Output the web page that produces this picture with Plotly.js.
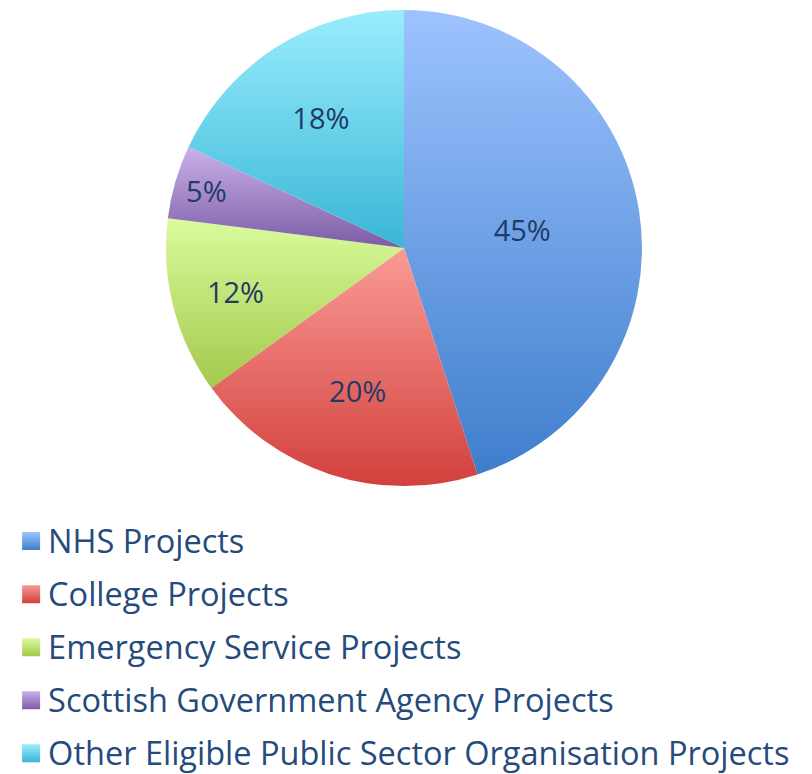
<!DOCTYPE html>
<html>
<head>
<meta charset="utf-8">
<script src="https://cdn.plot.ly/plotly-3.0.1.min.js"></script>
<style>html,body{margin:0;padding:0;background:#fff;}#chart{width:812px;height:774px;}</style>
</head>
<body>
<div id="chart"></div>
<script>
const categories = [
  "NHS Projects",
  "College Projects",
  "Emergency Service Projects",
  "Scottish Government Agency Projects",
  "Other Eligible Public Sector Organisation Projects"
];
const shares = [45, 20, 12, 5, 18];
const sliceColors = ["#6E9FE6", "#E86E6A", "#C4E675", "#A387C8", "#6CD1EA"];
const gradTop = ["#9DC3FF", "#FA9B96", "#DAFB9C", "#C9B1E9", "#99EDFD"];
const gradBottom = ["#3F7ECC", "#D2403C", "#A3C94C", "#7C5CA6", "#3AB6D6"];

const legendLabels = categories.map(c => '<span style="font-size:32.5px">' + c + '</span>');

const data = [{
  type: 'pie',
  labels: legendLabels,
  values: shares,
  sort: false,
  direction: 'clockwise',
  rotation: 0,
  marker: {colors: sliceColors, line: {width: 0}},
  textinfo: 'percent',
  texttemplate: '%{percent:.0%}',
  textposition: 'inside',
  insidetextorientation: 'horizontal',
  textfont: {family: 'Open Sans', size: 29, color: '#1F3B66'},
  hoverinfo: 'skip',
  domain: {x: [0.2044, 0.7906], y: [0.372, 0.987]}
}];

const layout = {
  width: 812, height: 774,
  margin: {l: 0, r: 0, t: 0, b: 0, autoexpand: false},
  paper_bgcolor: '#fff',
  showlegend: true,
  legend: {
    x: 0.01, xanchor: 'left', y: 0.3455, yanchor: 'top',
    orientation: 'v',
    font: {family: 'Open Sans', size: 38.5, color: '#254A7C'},
    bgcolor: 'rgba(0,0,0,0)'
  }
};

Plotly.newPlot('chart', data, layout, {displayModeBar: false, staticPlot: true}).then(function(gd){
  const svg = gd.querySelector('svg.main-svg');
  const ns = 'http://www.w3.org/2000/svg';
  let defs = svg.querySelector('defs');
  if (!defs) { defs = document.createElementNS(ns, 'defs'); svg.insertBefore(defs, svg.firstChild); }
  for (let i = 0; i < shares.length; i++) {
    const g = document.createElementNS(ns, 'linearGradient');
    g.setAttribute('id', 'sg' + i);
    g.setAttribute('x1', '0'); g.setAttribute('y1', '0');
    g.setAttribute('x2', '0'); g.setAttribute('y2', '1');
    const s1 = document.createElementNS(ns, 'stop');
    s1.setAttribute('offset', '0'); s1.setAttribute('stop-color', gradTop[i]);
    const s2 = document.createElementNS(ns, 'stop');
    s2.setAttribute('offset', '1'); s2.setAttribute('stop-color', gradBottom[i]);
    g.appendChild(s1); g.appendChild(s2);
    defs.appendChild(g);
  }
  gd.querySelectorAll('g.slice path.surface').forEach(function(p, i){
    p.style.fill = 'url(#sg' + i + ')';
  });
  gd.querySelectorAll('g.legend g.traces').forEach(function(t, i){
    const p = t.querySelector('path.legendpie');
    if (p) {
      p.setAttribute('d', 'M12,12H-6V-6H12Z');
      p.style.fill = 'url(#sg' + i + ')';
      p.style.stroke = 'none';
    }
  });
});
</script>
</body>
</html>
